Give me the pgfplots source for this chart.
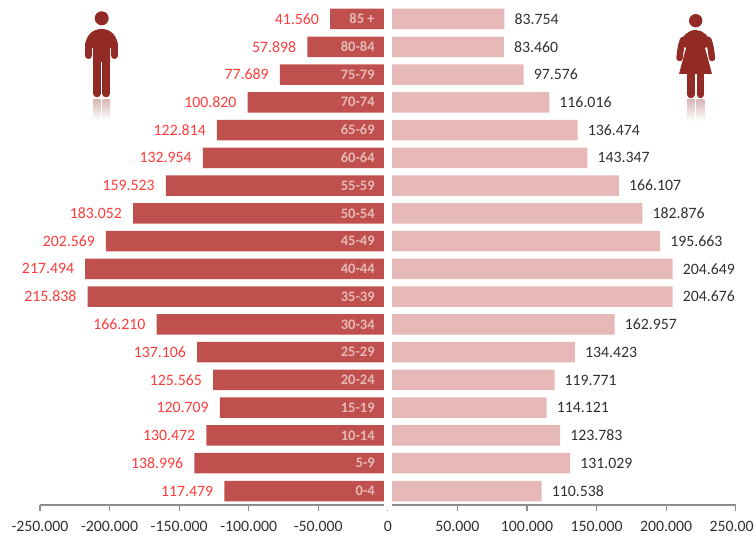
\documentclass[border=0pt]{standalone}
\usepackage{fontspec}
\setmainfont{Carlito}
\usepackage{pgfplots}
\usepackage{pgfplotstable}
\pgfplotsset{compat=1.18}

\definecolor{malebar}{HTML}{C0504D}
\definecolor{femalebar}{HTML}{E6B9B8}
\definecolor{malelabel}{HTML}{FF3B3B}
\definecolor{darklabel}{HTML}{303030}
\definecolor{axisgray}{HTML}{8C8C8C}
\definecolor{icon}{HTML}{922B26}
\definecolor{iconfade}{HTML}{D8B8B6}

\pgfplotstableread{
pos age      male   female
0   0-4      117479 110538
1   5-9      138996 131029
2   10-14    130472 123783
3   15-19    120709 114121
4   20-24    125565 119771
5   25-29    137106 134423
6   30-34    166210 162957
7   35-39    215838 204676
8   40-44    217494 204649
9   45-49    202569 195663
10  50-54    183052 182876
11  55-59    159523 166107
12  60-64    132954 143347
13  65-69    122814 136474
14  70-74    100820 116016
15  75-79    77689  97576
16  80-84    57898  83460
17  {85 +}   41560  83754
}\pyramid

\newcommand{\labelfont}{\fontsize{15.8}{18}\selectfont}

\begin{document}
\begin{tikzpicture}
\useasboundingbox (-40pt,-33pt) rectangle (714pt,505pt);
\begin{axis}[
  at={(0pt,0pt)},
  anchor=south west,
  scale only axis,
  width=695.7pt,
  height=505pt,
  xmin=-250000, xmax=250000,
  ymin=-0.504, ymax=17.684,
  axis x line*=bottom,
  axis y line=none,
  xtick={-250000,-200000,-150000,-100000,-50000,0,50000,100000,150000,200000,250000},
  scaled x ticks=false,
  tick align=outside,
  major tick length=5.7pt,
  x axis line style={draw=axisgray, line width=1.3pt, -},
  x tick style={draw=axisgray, line width=1.1pt},
  x tick label style={font=\labelfont, text=darklabel, yshift=-7pt},
  /pgf/number format/.cd, fixed, 1000 sep={.}, assume math mode=true,
  /pgfplots/.cd,
  clip=false,
]
\addplot[xbar, bar shift=0pt, bar width=20.5pt, fill=malebar, draw=none,
  point meta=explicit,
  nodes near coords,
  every node near coord/.append style={anchor=east, inner sep=0pt, xshift=-11pt,
    font=\labelfont, text=malelabel}]
  table [x expr=-\thisrow{male}, y=pos, meta=male] {\pyramid};
\addplot[xbar, bar shift=0pt, bar width=20.5pt, fill=femalebar, draw=none,
  point meta=explicit,
  nodes near coords,
  every node near coord/.append style={anchor=west, inner sep=0pt, xshift=10pt,
    font=\labelfont, text=darklabel}]
  table [x=female, y=pos, meta=female] {\pyramid};
% white strip between the two halves
\addplot[draw=white, line width=8pt, forget plot] coordinates {(300,-0.7) (300,17.684)};
% age groups inside the male bars
\addplot[draw=none, mark=none,
  point meta=explicit symbolic,
  nodes near coords,
  every node near coord/.append style={anchor=east, inner sep=0pt,
    font=\fontsize{14.5}{16}\selectfont\bfseries, text=femalebar}]
  table [x expr=-9350, y=pos, meta=age] {\pyramid};
\end{axis}

% icons, in pixels of the reference
\begin{scope}[x=1pt, y=-1pt, shift={(-40,-505)}]
  % man
  \fill[icon] (101.7,18.3) circle (7);
  \fill[icon] (85,48) .. controls (85,36) and (92,29) .. (101.7,29)
     .. controls (111,29) and (118,36) .. (118,48) -- (110,48) -- (110,62) -- (93,62) -- (93,48) -- cycle;
  \draw[icon, line width=7pt, line cap=round] (88.5,44) -- (88.5,55.5);
  \draw[icon, line width=7pt, line cap=round] (114.5,44) -- (114.5,55.5);
  \draw[icon, line width=7.7pt, line cap=round] (97,60) -- (97,93.5);
  \draw[icon, line width=7.7pt, line cap=round] (106.3,60) -- (106.3,93.5);
  \shade[top color=iconfade, bottom color=white] (93.2,100) rectangle (100.8,120);
  \shade[top color=iconfade, bottom color=white] (102.5,100) rectangle (110.1,120);
  % woman
  \fill[icon] (695.7,20.7) circle (6.7);
  \fill[icon] (680,44) .. controls (682,36) and (688,30) .. (695.7,30)
     .. controls (703,30) and (709,36) .. (711,44) -- (705,48) -- (712,74) -- (679,74) -- (686,48) -- cycle;
  \draw[icon, line width=6.5pt, line cap=round] (683,40) .. controls (681,46) .. (679.5,58);
  \draw[icon, line width=6.5pt, line cap=round] (708.4,40) .. controls (710.4,46) .. (712,58);
  \draw[icon, line width=7.5pt, line cap=round] (691,72) -- (691,94.5);
  \draw[icon, line width=7.5pt, line cap=round] (700.5,72) -- (700.5,94.5);
  \shade[top color=iconfade, bottom color=white] (687.2,100) rectangle (694.8,121);
  \shade[top color=iconfade, bottom color=white] (696.7,100) rectangle (704.3,121);
\end{scope}
\end{tikzpicture}
\end{document}
